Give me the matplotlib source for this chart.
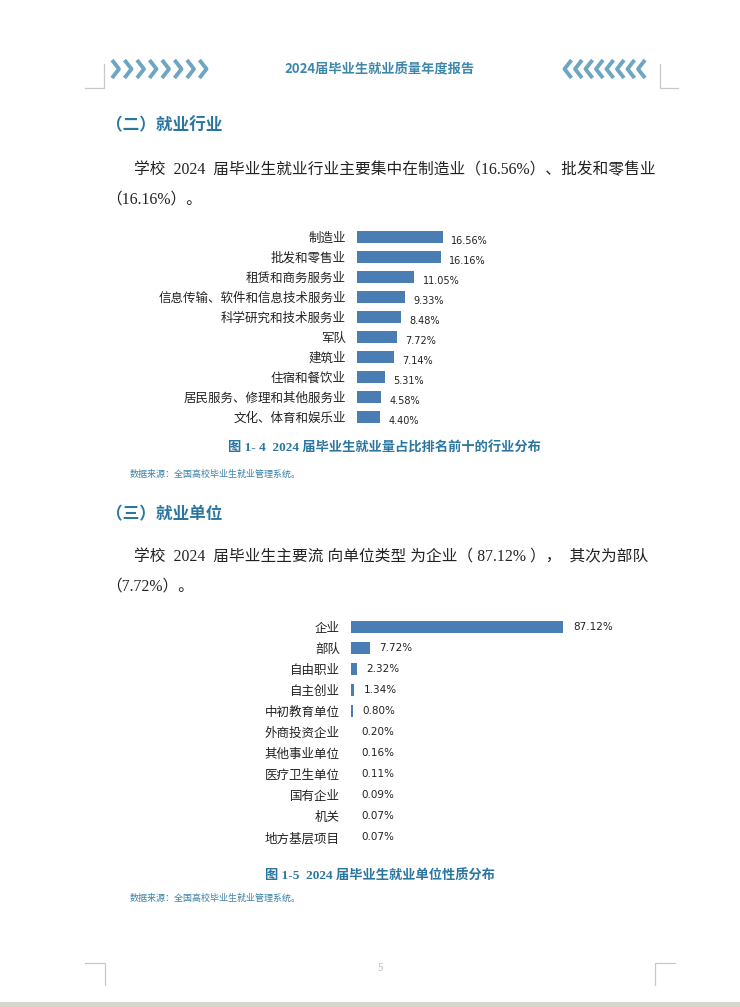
import matplotlib
matplotlib.use("Agg")
import matplotlib.pyplot as plt
from matplotlib.lines import Line2D

plt.rcParams['font.family'] = ['Noto Sans CJK SC', 'DejaVu Sans']

# ---- data ----
industries = ['制造业', '批发和零售业', '租赁和商务服务业', '信息传输、软件和信息技术服务业',
              '科学研究和技术服务业', '军队', '建筑业', '住宿和餐饮业',
              '居民服务、修理和其他服务业', '文化、体育和娱乐业']
industry_pct = [16.56, 16.16, 11.05, 9.33, 8.48, 7.72, 7.14, 5.31, 4.58, 4.40]

units = ['企业', '部队', '自由职业', '自主创业', '中初教育单位', '外商投资企业',
         '其他事业单位', '医疗卫生单位', '国有企业', '机关', '地方基层项目']
unit_pct = [87.12, 7.72, 2.32, 1.34, 0.80, 0.20, 0.16, 0.11, 0.09, 0.07, 0.07]

W, H = 740, 1007
BAR = '#4a7db3'
TEAL = '#2a76a0'
SERIF = ['Liberation Serif', 'Noto Sans CJK SC']

fig = plt.figure(figsize=(W / 100, H / 100), dpi=100)
fig.patch.set_facecolor('white')


def fx(x):
    return x / W


def fy(y):
    return 1 - y / H


def txt(x, y, s, **kw):
    fig.text(fx(x), fy(y), s, **kw)


def line(xs, ys, **kw):
    fig.add_artist(Line2D([fx(x) for x in xs], [fy(y) for y in ys],
                          transform=fig.transFigure, **kw))


# ---- page header / footer ----
for i in range(8):
    x0 = 112 + i * 12.5
    line([x0, x0 + 7, x0], [60, 69, 78], color='#6ea6c2', lw=2.8, solid_capstyle='butt')
for i in range(8):
    x0 = 645 - i * 10.5
    line([x0, x0 - 7, x0], [60, 69, 78], color='#6ea6c2', lw=2.8, solid_capstyle='butt')
txt(380, 69, '2024届毕业生就业质量年度报告', fontsize=9.5, color='#3d88aa',
    ha='center', va='center', fontweight='bold')
line([85, 104, 104], [88, 88, 64], color='#c8c8c8', lw=0.9)
line([678, 660, 660], [88, 88, 64], color='#c8c8c8', lw=0.9)
line([85, 105, 105], [963, 963, 985], color='#c8c8c8', lw=0.9)
line([675, 655, 655], [963, 963, 985], color='#c8c8c8', lw=0.9)
txt(380, 968, '5', fontsize=7, color='#b8c4c8', ha='center', va='center')
fig.add_artist(plt.Rectangle((0, 0), 1, fy(1002), transform=fig.transFigure,
                             color='#d6d6cc', lw=0))

# ---- section 2 ----
txt(106, 125, '（二）就业行业', fontsize=12, fontweight='bold', color=TEAL, va='center')
txt(134, 170, '学校  2024  届毕业生就业行业主要集中在制造业（16.56%）、批发和零售业',
    fontsize=11.3, family=SERIF, color='#222222', va='center')
txt(106, 199, '（16.16%）。', fontsize=11.3, family=SERIF, color='#222222', va='center')

ax1 = fig.add_axes([fx(357), fy(426.5), 200 / W, 199.5 / H])
y1 = list(range(len(industries)))
ax1.barh(y1, industry_pct, height=0.6, color=BAR)
ax1.set_ylim(len(industries) - 0.5, -0.5)
ax1.set_xlim(0, 200 / 5.19)
ax1.set_yticks(y1)
ax1.set_yticklabels(industries, fontsize=9, color='#222222')
ax1.tick_params(axis='y', length=0, pad=8)
ax1.set_xticks([])
for s in ax1.spines.values():
    s.set_visible(False)
ax1.patch.set_alpha(0)
for yi, v in zip(y1, industry_pct):
    ax1.annotate(f'{v:.2f}%', (v, yi), xytext=(6, -3), textcoords='offset points',
                 fontsize=7, family='DejaVu Sans', color='#222222', va='center')

txt(384, 448, '图 1- 4  2024 届毕业生就业量占比排名前十的行业分布', fontsize=9.5,
    family=SERIF, fontweight='bold', color=TEAL, ha='center', va='center')
txt(130, 474, '数据来源：全国高校毕业生就业管理系统。', fontsize=6.5, color='#3b82a8',
    va='center')

# ---- section 3 ----
txt(106, 514, '（三）就业单位', fontsize=12, fontweight='bold', color=TEAL, va='center')
txt(134, 557, '学校  2024  届毕业生主要流 向单位类型 为企业（ 87.12% ），  其次为部队',
    fontsize=11.3, family=SERIF, color='#222222', va='center')
txt(106, 587, '（7.72%）。', fontsize=11.3, family=SERIF, color='#222222', va='center')

ax2 = fig.add_axes([fx(351), fy(847.5), 290 / W, 231 / H])
y2 = list(range(len(units)))
ax2.barh(y2, unit_pct, height=0.55, color=BAR)
ax2.set_ylim(len(units) - 0.5, -0.5)
ax2.set_xlim(0, 290 / 2.434)
ax2.set_yticks(y2)
ax2.set_yticklabels(units, fontsize=9, color='#222222')
ax2.tick_params(axis='y', length=0, pad=8)
ax2.set_xticks([])
for s in ax2.spines.values():
    s.set_visible(False)
ax2.patch.set_alpha(0)
for yi, v in zip(y2, unit_pct):
    ax2.annotate(f'{v:.2f}%', (v, yi), xytext=(7, 0), textcoords='offset points',
                 fontsize=7.5, family='DejaVu Sans', color='#222222', va='center')

txt(380, 876, '图 1-5  2024 届毕业生就业单位性质分布', fontsize=9.5,
    family=SERIF, fontweight='bold', color=TEAL, ha='center', va='center')
txt(130, 898, '数据来源：全国高校毕业生就业管理系统。', fontsize=6.5, color='#3b82a8',
    va='center')

fig.savefig('out.png', dpi=100, facecolor=fig.get_facecolor())
